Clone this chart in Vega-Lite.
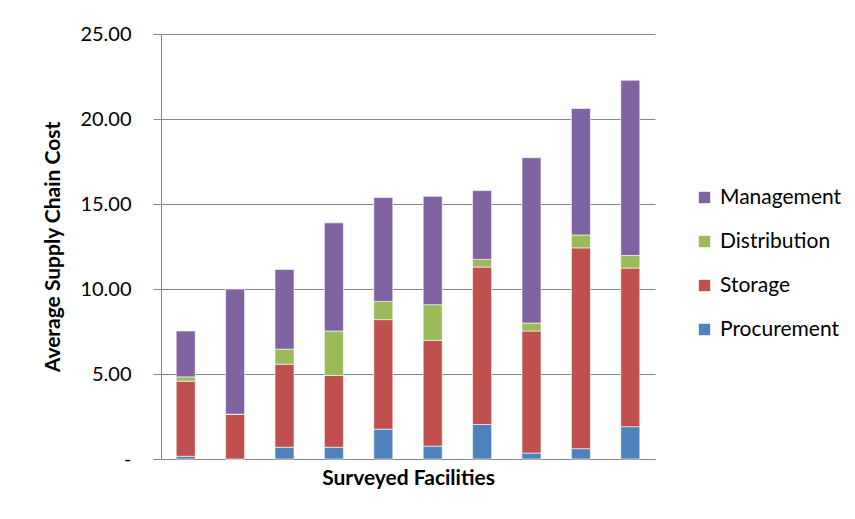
{
  "$schema": "https://vega.github.io/schema/vega-lite/v6.json",
  "autosize": "none",
  "width": 494,
  "height": 425,
  "padding": {"left": 161, "top": 34, "right": 200, "bottom": 60},
  "background": "white",
  "config": {
    "view": {"stroke": null},
    "font": "Lato"
  },
  "data": {
    "values": [
      {"facility": "F01", "component": "Procurement", "rank": 1, "cost": 0.16},
      {"facility": "F01", "component": "Storage", "rank": 2, "cost": 4.42},
      {"facility": "F01", "component": "Distribution", "rank": 3, "cost": 0.25},
      {"facility": "F01", "component": "Management", "rank": 4, "cost": 2.70},
      {"facility": "F02", "component": "Procurement", "rank": 1, "cost": 0.0},
      {"facility": "F02", "component": "Storage", "rank": 2, "cost": 2.64},
      {"facility": "F02", "component": "Distribution", "rank": 3, "cost": 0.0},
      {"facility": "F02", "component": "Management", "rank": 4, "cost": 7.36},
      {"facility": "F03", "component": "Procurement", "rank": 1, "cost": 0.69},
      {"facility": "F03", "component": "Storage", "rank": 2, "cost": 4.89},
      {"facility": "F03", "component": "Distribution", "rank": 3, "cost": 0.88},
      {"facility": "F03", "component": "Management", "rank": 4, "cost": 4.69},
      {"facility": "F04", "component": "Procurement", "rank": 1, "cost": 0.69},
      {"facility": "F04", "component": "Storage", "rank": 2, "cost": 4.22},
      {"facility": "F04", "component": "Distribution", "rank": 3, "cost": 2.62},
      {"facility": "F04", "component": "Management", "rank": 4, "cost": 6.36},
      {"facility": "F05", "component": "Procurement", "rank": 1, "cost": 1.76},
      {"facility": "F05", "component": "Storage", "rank": 2, "cost": 6.44},
      {"facility": "F05", "component": "Distribution", "rank": 3, "cost": 1.07},
      {"facility": "F05", "component": "Management", "rank": 4, "cost": 6.11},
      {"facility": "F06", "component": "Procurement", "rank": 1, "cost": 0.76},
      {"facility": "F06", "component": "Storage", "rank": 2, "cost": 6.22},
      {"facility": "F06", "component": "Distribution", "rank": 3, "cost": 2.10},
      {"facility": "F06", "component": "Management", "rank": 4, "cost": 6.37},
      {"facility": "F07", "component": "Procurement", "rank": 1, "cost": 2.03},
      {"facility": "F07", "component": "Storage", "rank": 2, "cost": 9.26},
      {"facility": "F07", "component": "Distribution", "rank": 3, "cost": 0.45},
      {"facility": "F07", "component": "Management", "rank": 4, "cost": 4.05},
      {"facility": "F08", "component": "Procurement", "rank": 1, "cost": 0.35},
      {"facility": "F08", "component": "Storage", "rank": 2, "cost": 7.18},
      {"facility": "F08", "component": "Distribution", "rank": 3, "cost": 0.47},
      {"facility": "F08", "component": "Management", "rank": 4, "cost": 9.72},
      {"facility": "F09", "component": "Procurement", "rank": 1, "cost": 0.61},
      {"facility": "F09", "component": "Storage", "rank": 2, "cost": 11.81},
      {"facility": "F09", "component": "Distribution", "rank": 3, "cost": 0.76},
      {"facility": "F09", "component": "Management", "rank": 4, "cost": 7.44},
      {"facility": "F10", "component": "Procurement", "rank": 1, "cost": 1.90},
      {"facility": "F10", "component": "Storage", "rank": 2, "cost": 9.33},
      {"facility": "F10", "component": "Distribution", "rank": 3, "cost": 0.74},
      {"facility": "F10", "component": "Management", "rank": 4, "cost": 10.31}
    ]
  },
  "mark": {"type": "bar", "stroke": "white", "strokeWidth": 0.6},
  "encoding": {
    "x": {
      "field": "facility",
      "type": "nominal",
      "scale": {"paddingInner": 0.615, "paddingOuter": 0.3075},
      "axis": {
        "title": "Surveyed Facilities",
        "labels": false,
        "ticks": false,
        "domainColor": "#868686",
        "domainWidth": 1,
        "titleFont": "Lato",
        "titleFontSize": 21,
        "titleFontWeight": "bold",
        "titleColor": "#000000",
        "titlePadding": 8
      }
    },
    "y": {
      "field": "cost",
      "type": "quantitative",
      "stack": "zero",
      "scale": {"domain": [0, 25], "nice": false},
      "axis": {
        "title": "Average Supply Chain Cost",
        "values": [0, 5, 10, 15, 20, 25],
        "labelExpr": "datum.value == 0 ? '-\u00a0\u00a0\u00a0' : format(datum.value, '.2f')",
        "labelFont": "Lato",
        "labelFontSize": 20,
        "labelColor": "#000000",
        "labelPadding": 22,
        "tickSize": 8,
        "tickColor": "#868686",
        "domainColor": "#868686",
        "gridColor": "#868686",
        "gridWidth": 1,
        "titleFont": "Lato",
        "titleFontSize": 21,
        "titleFontWeight": "bold",
        "titleColor": "#000000",
        "titlePadding": 16
      }
    },
    "color": {
      "field": "component",
      "type": "nominal",
      "sort": ["Management", "Distribution", "Storage", "Procurement"],
      "scale": {
        "domain": ["Management", "Distribution", "Storage", "Procurement"],
        "range": ["#8064A2", "#9BBB59", "#C0504D", "#4F81BD"]
      },
      "legend": {
        "title": null,
        "orient": "none",
        "legendX": 533,
        "legendY": 153,
        "symbolType": "square",
        "symbolSize": 130,
        "symbolStrokeWidth": 0,
        "labelFont": "Lato",
        "labelFontSize": 21,
        "labelColor": "#000000",
        "labelOffset": 5,
        "rowPadding": 22
      }
    },
    "order": {"field": "rank", "type": "quantitative"}
  }
}
